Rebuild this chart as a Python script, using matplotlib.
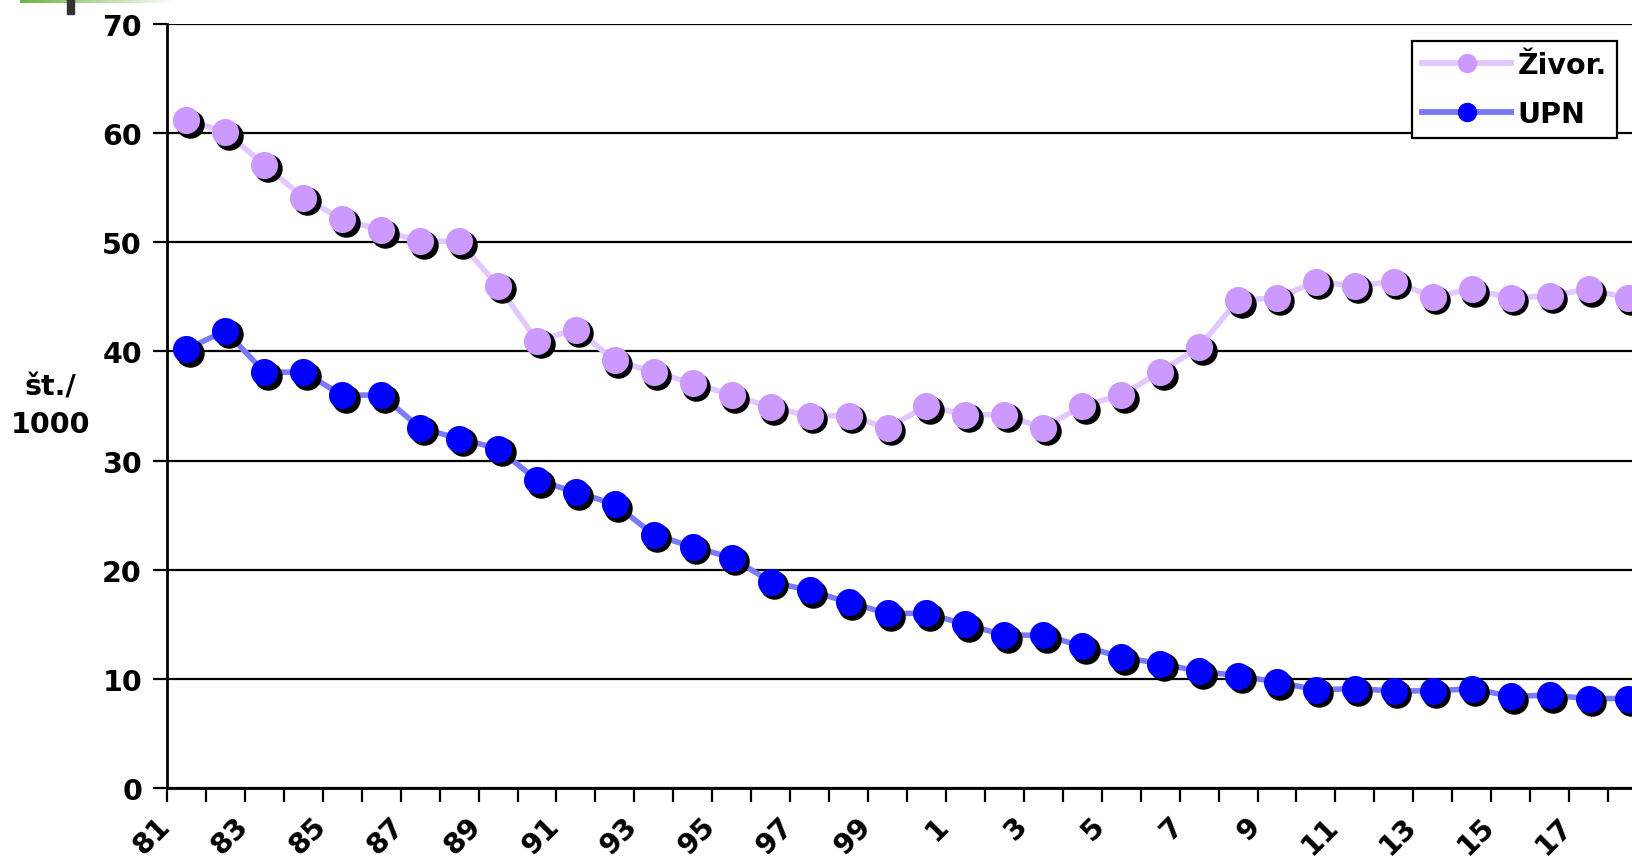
import matplotlib
matplotlib.use('Agg')
import matplotlib.pyplot as plt
import matplotlib.transforms as mtransforms
from matplotlib.lines import Line2D
from matplotlib.patches import Rectangle
import numpy as np

years = list(range(1981, 2019))
zivor = [61.2, 60.1, 57.1, 54.1, 52.1, 51.1, 50.1, 50.1, 46.0, 41.0, 42.0, 39.2,
         38.1, 37.1, 36.0, 34.9, 34.1, 34.1, 33.0, 35.0, 34.2, 34.2, 33.0, 35.0, 36.0,
         38.1, 40.4, 44.7, 44.9, 46.4, 46.0, 46.4, 45.0, 45.7, 44.9, 45.1, 45.7, 44.9]
upn = [40.2, 41.9, 38.1, 38.1, 36.0, 36.0, 33.0, 32.0, 31.1, 28.2, 27.1, 26.0,
       23.2, 22.1, 21.1, 18.9, 18.1, 17.0, 16.0, 16.0, 15.0, 14.0, 14.0, 13.0, 12.0,
       11.4, 10.7, 10.3, 9.7, 9.0, 9.1, 8.9, 8.9, 9.1, 8.4, 8.5, 8.2, 8.2]
series_names = ['Živor.', 'UPN']
y_ticks = [0, 10, 20, 30, 40, 50, 60, 70]

W, H = 1633, 862
fs = 20.5
plt.rcParams['font.family'] = ['DejaVu Sans']
plt.rcParams['font.weight'] = 'bold'

fig = plt.figure(figsize=(W / 100, H / 100), dpi=100)
ax = fig.add_axes([167 / W, 1 - 789 / H, (1647 - 167) / W, (789 - 25) / H])

x = np.arange(len(years)) + 0.5
shadow = mtransforms.offset_copy(ax.transData, fig=fig, x=3.5, y=-3.5, units='dots')

styles = [
    (zivor, '#E3C8FF', '#CC99FF'),
    (upn, '#7A7AFF', '#0000FF'),
]
handles = []
for (vals, lc, mc), name in zip(styles, series_names):
    ax.plot(x, vals, color=lc, lw=4.0, zorder=3, solid_capstyle='butt')
    ax.plot(x, vals, ls='none', marker='o', ms=19.5, mfc='black', mec='black',
            transform=shadow, zorder=4, clip_on=False)
    ax.plot(x, vals, ls='none', marker='o', ms=19.5, mfc=mc, mec=mc, mew=0, zorder=5,
            clip_on=False)
    handles.append(Line2D([], [], color=lc, lw=4.2, marker='o', ms=13, mfc=mc, mec=mc))

ax.set_xlim(0, len(years))
ax.set_ylim(0, 70)
ax.set_yticks(y_ticks)
ax.set_yticklabels([str(v) for v in y_ticks], fontsize=fs, fontweight='bold')
ax.grid(axis='y', color='black', lw=1.6)
ax.set_axisbelow(True)

ax.set_xticks(np.arange(len(years) + 1))
ax.set_xticklabels([])
lab_idx = list(range(0, len(years), 2))
ax.set_xticks([i + 0.5 for i in lab_idx], minor=True)
ax.set_xticklabels([str(years[i] % 100) for i in lab_idx], minor=True,
                   rotation=45, ha='right', va='top', fontsize=fs, fontweight='bold')
ax.tick_params(axis='x', which='minor', length=0, pad=17)
ax.tick_params(axis='x', which='major', length=10, width=1.6, direction='out')
ax.tick_params(axis='y', length=10, width=1.6, direction='out', pad=8)
shift = mtransforms.ScaledTranslation(-11 / 100, 0, fig.dpi_scale_trans)
for lab in ax.get_xticklabels(minor=True):
    lab.set_transform(lab.get_transform() + shift)

for s in ['top', 'right']:
    ax.spines[s].set_visible(False)
for s in ['left', 'bottom']:
    ax.spines[s].set_linewidth(2)

ax.set_ylabel('št./\n1000', rotation=0, fontsize=fs, fontweight='bold',
              ha='center', va='center', linespacing=1.45)
ax.yaxis.set_label_coords((50 - 167) / (1647 - 167), (789 - 406) / 764)

leg = ax.legend(handles, series_names, loc='upper right',
                bbox_to_anchor=(1617 / W, 1 - 42 / H), bbox_transform=fig.transFigure,
                prop={'size': fs, 'weight': 'bold'}, frameon=True, fancybox=False,
                framealpha=1, edgecolor='black', handlelength=3.1, handletextpad=0.25,
                borderpad=0.35, labelspacing=0.75, borderaxespad=0)
leg.get_frame().set_linewidth(1.6)

# header decoration at top-left
grad = fig.add_axes([20 / W, 1 - 4 / H, 155 / W, 4 / H])
g = np.linspace(0, 1, 256)[None, :]
cols = np.ones((1, 256, 4))
cols[..., 0] = 0.43 + 0.57 * g
cols[..., 1] = 0.70 + 0.30 * g
cols[..., 2] = 0.25 + 0.75 * g
grad.imshow(cols, aspect='auto')
grad.axis('off')
fig.add_artist(Rectangle((67 / W, 1 - 15 / H), 7 / W, 15 / H, transform=fig.transFigure,
                         color='#333333'))

fig.savefig('out.png', dpi=100)
